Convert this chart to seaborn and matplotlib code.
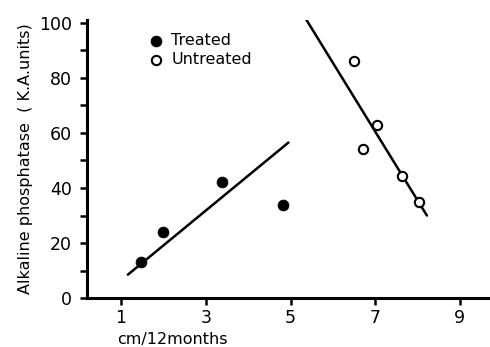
import matplotlib
matplotlib.use("Agg")
import matplotlib.pyplot as plt
import seaborn as sns
import pandas as pd

# growth rate (cm/12 months) vs alkaline phosphatase (K.A. units)
treated_x = [1.47, 2.0, 3.38, 4.83]
treated_y = [13, 24, 42, 34]
untreated_x = [6.49, 6.71, 7.04, 7.63, 8.03]
untreated_y = [86, 54, 63, 44.5, 35]

# fitted lines (end points as drawn)
treated_fit_x = [1.16, 4.95]
treated_fit_y = [8.5, 56.5]
untreated_fit_x = [5.36, 8.22]
untreated_fit_y = [101.5, 30]

x_ticks = [1, 3, 5, 7, 9]
y_ticks = [0, 20, 40, 60, 80, 100]

sns.set_style("ticks")
plt.rcParams['font.family'] = ['DejaVu Sans']

fig = plt.figure(figsize=(4.9, 3.47), dpi=100)
ax = fig.add_axes([0.178, 0.141, 0.822, 0.801])

sns.lineplot(x=treated_fit_x, y=treated_fit_y, ax=ax, color='black', lw=1.8)
sns.lineplot(x=untreated_fit_x, y=untreated_fit_y, ax=ax, color='black', lw=1.8)

sns.scatterplot(x=treated_x, y=treated_y, ax=ax, s=60, color='black',
                edgecolor='black', label='Treated', zorder=3)
sns.scatterplot(x=untreated_x, y=untreated_y, ax=ax, s=45, facecolor='white',
                edgecolor='black', linewidth=1.5, label='Untreated', zorder=3)

ax.set_xlim(0.2, 9.71)
ax.set_ylim(0, 101)
ax.set_xticks(x_ticks)
ax.set_yticks(y_ticks)
ax.set_yticks([10, 30, 50, 70, 90], minor=True)
ax.tick_params(axis='both', which='major', labelsize=12.5, width=1.8, length=5,
               color='black', labelcolor='black', pad=6)
ax.tick_params(axis='x', which='major', pad=3)
ax.tick_params(axis='y', which='minor', width=1.8, length=5, color='black')

sns.despine(ax=ax)
for side in ['left', 'bottom']:
    ax.spines[side].set_linewidth(2.2)
    ax.spines[side].set_color('black')

ax.set_ylabel('Alkaline phosphatase  ( K.A.units)', fontsize=11.5, color='black')
ax.yaxis.set_label_coords(-0.135, 0.5)
ax.set_xlabel('cm/12months', fontsize=11.5, loc='left', color='black')
ax.xaxis.set_label_coords(0.075, -0.122)

leg = ax.legend(loc='upper left', bbox_to_anchor=(0.135, 0.975), frameon=False,
                fontsize=11.5, handletextpad=0.45, labelspacing=0.25,
                borderaxespad=0, handlelength=1, labelcolor='black')

fig.savefig('out.png', dpi=100)
